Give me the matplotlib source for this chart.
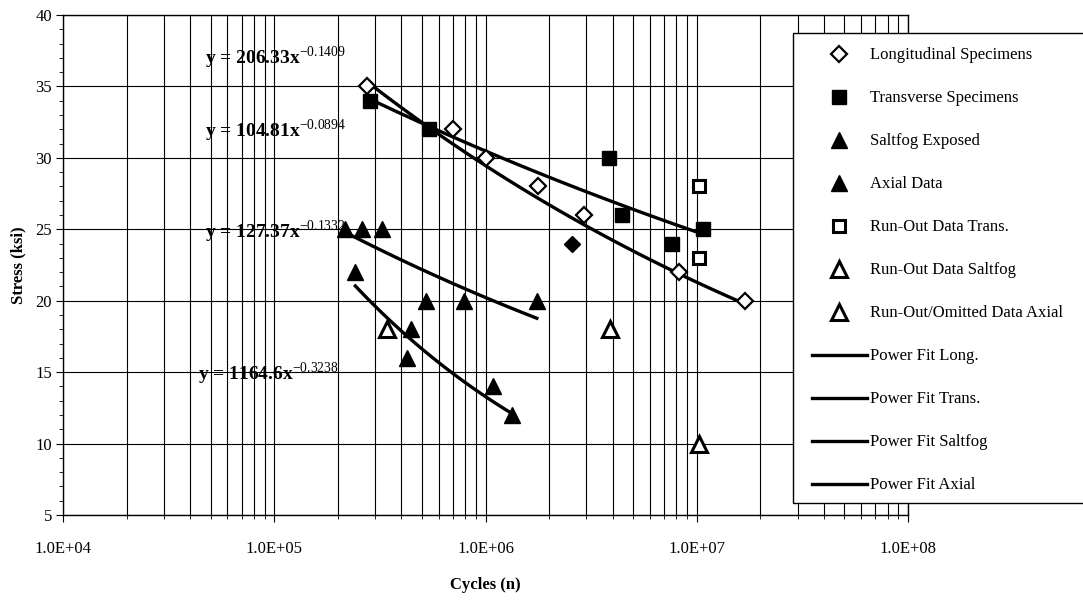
import matplotlib
matplotlib.use("Agg")
import matplotlib.pyplot as plt
import numpy as np
from matplotlib.lines import Line2D
from matplotlib.patches import Rectangle
from matplotlib.ticker import FixedLocator, MultipleLocator, NullFormatter

plt.rcParams['font.family'] = ['Liberation Serif', 'DejaVu Serif']
plt.rcParams['mathtext.fontset'] = 'custom'
plt.rcParams['mathtext.rm'] = 'Liberation Serif'
plt.rcParams['mathtext.bf'] = 'Liberation Serif:bold'

# data
long_n = [2.76e5, 7.05e5, 1.0e6, 1.78e6, 2.91e6, 8.2e6, 1.69e7]
long_s = [35, 32, 30, 28, 26, 22, 20]
long_extra_n = [2.58e6]   # dark diamond
long_extra_s = [24]

trans_n = [2.85e5, 5.43e5, 3.83e6, 4.42e6, 7.62e6, 1.07e7]
trans_s = [34, 32, 30, 26, 24, 25]

salt_n = [2.17e5, 2.61e5, 3.22e5, 5.2e5, 7.95e5, 1.75e6]
salt_s = [25, 25, 25, 20, 20, 20]

axial_n = [2.42e5, 4.42e5, 4.27e5, 1.08e6, 1.34e6]
axial_s = [22, 18, 16, 14, 12]

runout_trans_n = [1.03e7, 1.03e7]
runout_trans_s = [28, 23]

runout_salt_n = [3.9e6]
runout_salt_s = [18]

runout_axial_n = [3.4e5, 1.02e7]
runout_axial_s = [18, 10]

# power fits as printed on the chart: y = a * x^b, drawn over the data range
fit_a = [206.33, 104.81, 127.37, 1164.6]
fit_b = [-0.1409, -0.0894, -0.1332, -0.3238]
fit_lo = [2.76e5, 2.85e5, 2.17e5, 2.42e5]
fit_hi = [1.69e7, 1.07e7, 1.75e6, 1.34e6]
fit_labels = [r'y = 206.33x$^{\mathrm{-0.1409}}$', r'y = 104.81x$^{\mathrm{-0.0894}}$',
              r'y = 127.37x$^{\mathrm{-0.1332}}$', r'y = 1164.6x$^{\mathrm{-0.3238}}$']
label_pos = [(4.71e4, 37.0), (4.71e4, 31.9), (4.71e4, 24.8), (4.36e4, 14.9)]

xticks = [1e4, 1e5, 1e6, 1e7, 1e8]
xtick_labels = ['1.0E+04', '1.0E+05', '1.0E+06', '1.0E+07', '1.0E+08']
yticks = [5, 10, 15, 20, 25, 30, 35, 40]

fig = plt.figure(figsize=(10.83, 6.0), dpi=100)
ax = fig.add_axes([0.0582, 0.1417, 0.7802, 0.8333])

ax.set_xscale('log')
ax.set_xlim(1e4, 1e8)
ax.set_ylim(5, 40)

# fits
for a, b, lo, hi in zip(fit_a, fit_b, fit_lo, fit_hi):
    xs = np.logspace(np.log10(lo), np.log10(hi), 60)
    ax.plot(xs, a * xs ** b, color='black', lw=2.4, zorder=3)

mk = dict(linestyle='none', markeredgecolor='black', zorder=4)
ax.plot(long_n, long_s, marker='D', ms=8, markerfacecolor='white', markeredgewidth=1.6, **mk)
ax.plot(long_extra_n, long_extra_s, marker='D', ms=8, markerfacecolor='black', **mk)
ax.plot(trans_n, trans_s, marker='s', ms=10, markerfacecolor='black', **mk)
ax.plot(salt_n, salt_s, marker='^', ms=12, markerfacecolor='black', **mk)
ax.plot(axial_n, axial_s, marker='^', ms=12, markerfacecolor='black', **mk)
ax.plot(runout_trans_n, runout_trans_s, marker='s', ms=9, markerfacecolor='white', markeredgewidth=2.2, **mk)
ax.plot(runout_salt_n, runout_salt_s, marker='^', ms=11, markerfacecolor='white', markeredgewidth=2.2, **mk)
ax.plot(runout_axial_n, runout_axial_s, marker='^', ms=11, markerfacecolor='white', markeredgewidth=2.2, **mk)

for lab, (x, y) in zip(fit_labels, label_pos):
    ax.text(x, y, lab, fontsize=14, fontweight='bold', ha='left', va='center', zorder=5)

# ticks and grid
ax.xaxis.set_major_locator(FixedLocator(xticks))
ax.set_xticklabels(xtick_labels)
ax.xaxis.set_minor_locator(FixedLocator([m * d for d in [1e4, 1e5, 1e6, 1e7] for m in range(2, 10)]))
ax.xaxis.set_minor_formatter(NullFormatter())
ax.yaxis.set_major_locator(FixedLocator(yticks))
ax.yaxis.set_minor_locator(MultipleLocator(1))
ax.grid(True, which='both', axis='x', color='black', lw=0.8)
ax.grid(True, which='major', axis='y', color='black', lw=0.8)
ax.tick_params(which='major', direction='out', length=5, color='black', labelsize=12)
ax.tick_params(which='minor', direction='out', length=3, color='black')
ax.tick_params(axis='x', pad=14)
ax.tick_params(axis='y', pad=3)
for s in ax.spines.values():
    s.set_color('black')
    s.set_linewidth(1.0)

ax.set_xlabel('Cycles (n)', fontsize=12, fontweight='bold', labelpad=14)
ax.set_ylabel('Stress (ksi)', fontsize=12, fontweight='bold', labelpad=6)

# legend box (runs off the right edge of the figure)
fig.patches.append(Rectangle((0.732, 0.162), 0.3, 0.783, transform=fig.transFigure,
                             facecolor='white', edgecolor='black', lw=1.0, zorder=5))

handles = [
    Line2D([], [], marker='D', ms=8, markerfacecolor='white', markeredgewidth=1.6, **mk),
    Line2D([], [], marker='s', ms=10, markerfacecolor='black', **mk),
    Line2D([], [], marker='^', ms=12, markerfacecolor='black', **mk),
    Line2D([], [], marker='^', ms=12, markerfacecolor='black', **mk),
    Line2D([], [], marker='s', ms=9, markerfacecolor='white', markeredgewidth=2.2, **mk),
    Line2D([], [], marker='^', ms=11, markerfacecolor='white', markeredgewidth=2.2, **mk),
    Line2D([], [], marker='^', ms=11, markerfacecolor='white', markeredgewidth=2.2, **mk),
    Line2D([], [], color='black', lw=2.4),
    Line2D([], [], color='black', lw=2.4),
    Line2D([], [], color='black', lw=2.4),
    Line2D([], [], color='black', lw=2.4),
]
labels = ['Longitudinal Specimens', 'Transverse Specimens', 'Saltfog Exposed', 'Axial Data',
          'Run-Out Data Trans.', 'Run-Out Data Saltfog', 'Run-Out/Omitted Data Axial',
          'Power Fit Long.', 'Power Fit Trans.', 'Power Fit Saltfog', 'Power Fit Axial']
leg = fig.legend(handles, labels, loc='upper left', bbox_to_anchor=(0.742, 0.935),
                 frameon=False, fontsize=12, handlelength=3.3, handletextpad=0.2,
                 labelspacing=1.62, borderpad=0)
leg.set_zorder(6)

fig.savefig('out.png', dpi=100)
